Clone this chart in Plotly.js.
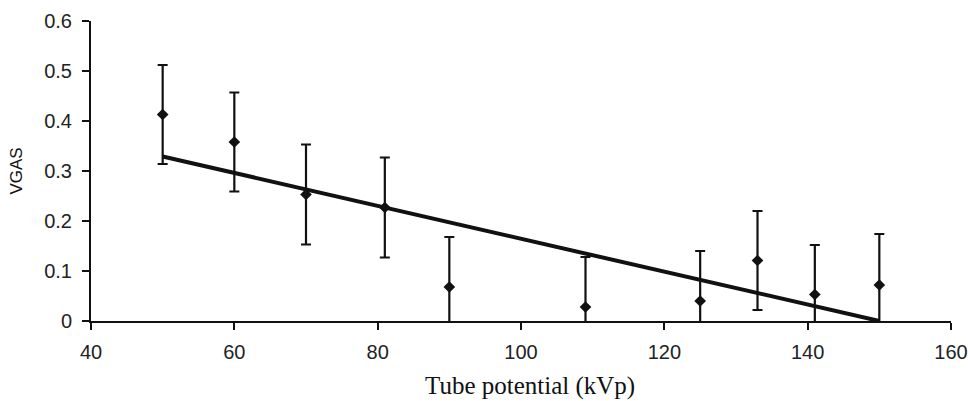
<!DOCTYPE html>
<html>
<head>
<meta charset="utf-8">
<script src="https://cdn.plot.ly/plotly-3.0.1.min.js"></script>
<style>html,body{margin:0;padding:0;background:#fff;}#chart{width:968px;height:401px;}</style>
</head>
<body>
<div id="chart"></div>
<script>
// Data
const kVp = [50, 60, 70, 81, 90, 109, 125, 133, 141, 150];
const vgas = [0.413, 0.358, 0.253, 0.227, 0.068, 0.028, 0.040, 0.121, 0.053, 0.072];
const vgasErr = [0.099, 0.099, 0.100, 0.100, 0.100, 0.100, 0.100, 0.099, 0.099, 0.102];
const trendX = [50, 150];
const trendY = [0.329, 0.0];
const xTicks = [40, 60, 80, 100, 120, 140, 160];
const yTicks = [0, 0.1, 0.2, 0.3, 0.4, 0.5, 0.6];
const yTickText = ['0', '0.1', '0.2', '0.3', '0.4', '0.5', '0.6'];
const xTitle = 'Tube potential (kVp)';
const yTitle = 'VGAS';

const traces = [
  {
    x: trendX, y: trendY, mode: 'lines', type: 'scatter',
    line: {color: '#111', width: 4}, hoverinfo: 'skip', showlegend: false
  },
  {
    x: kVp, y: vgas, mode: 'markers', type: 'scatter',
    marker: {symbol: 'diamond', size: 9, color: '#111'},
    error_y: {type: 'data', array: vgasErr, visible: true, color: '#111', thickness: 2.2, width: 5},
    showlegend: false
  }
];

const sans = 'Liberation Sans, Arial, sans-serif';
const layout = {
  width: 968, height: 401,
  margin: {l: 91, r: 17, t: 21, b: 80},
  paper_bgcolor: '#fff', plot_bgcolor: '#fff',
  font: {family: sans, color: '#111', size: 20},
  xaxis: {
    range: [40, 160], tickvals: xTicks, ticktext: xTicks.map(String),
    showgrid: false, zeroline: false, showline: true, linecolor: '#111', linewidth: 2,
    ticks: 'outside', ticklen: 7, tickwidth: 2, tickcolor: '#111',
    ticklabelstandoff: 5,
    tickfont: {size: 20, family: sans, color: '#222'}
  },
  yaxis: {
    range: [0, 0.6], tickvals: yTicks, ticktext: yTickText,
    showgrid: false, zeroline: false, showline: true, linecolor: '#111', linewidth: 2,
    ticks: 'outside', ticklen: 7, tickwidth: 2, tickcolor: '#111',
    ticklabelstandoff: 6,
    tickfont: {size: 20, family: sans, color: '#222'},
    title: {text: yTitle, font: {size: 17, family: sans}, standoff: 17}
  },
  annotations: [{
    text: xTitle, xref: 'paper', yref: 'paper', x: 0.511, y: 0,
    xanchor: 'center', yanchor: 'top', yshift: -49, showarrow: false,
    font: {family: 'Liberation Serif, Times New Roman, serif', size: 25, color: '#111'}
  }]
};

Plotly.newPlot('chart', traces, layout, {displayModeBar: false, staticPlot: true});
</script>
</body>
</html>
